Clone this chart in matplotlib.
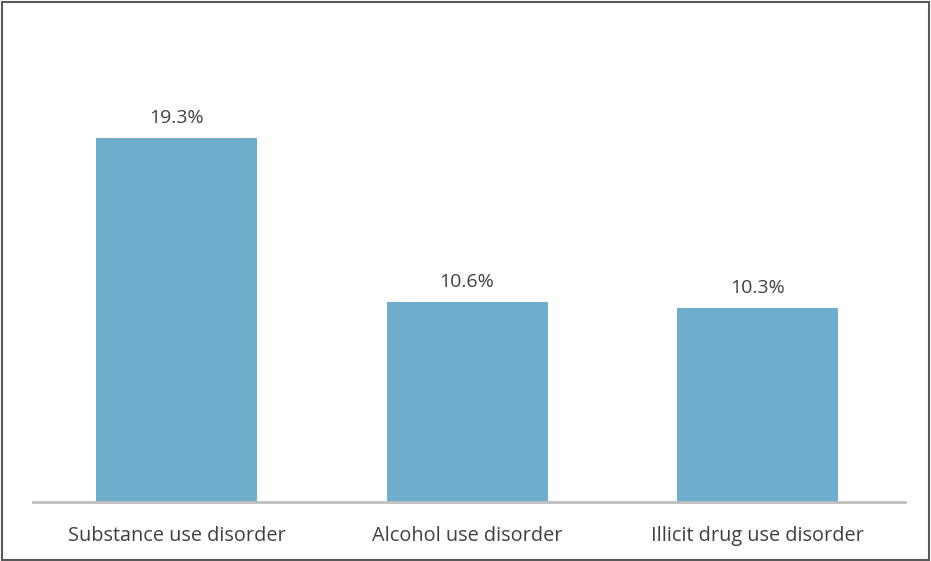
import matplotlib
matplotlib.use('Agg')
import matplotlib.pyplot as plt
from matplotlib.patches import Rectangle

plt.rcParams['font.family'] = ['Open Sans', 'DejaVu Sans']

categories = ['Substance use disorder', 'Alcohol use disorder', 'Illicit drug use disorder']
values = [19.3, 10.6, 10.3]
value_labels = ['19.3%', '10.6%', '10.3%']

bar_color = '#6FADCC'
text_color = '#404040'

fig = plt.figure(figsize=(9.31, 5.61), dpi=100)
ax = fig.add_axes([33 / 931, 59 / 561, 872 / 931, 471.5 / 561])

x = list(range(len(categories)))
bars = ax.bar(x, values, width=0.554, color=bar_color)

for b, lab in zip(bars, value_labels):
    ax.annotate(lab, (b.get_x() + b.get_width() / 2, b.get_height()),
                xytext=(0, 8), textcoords='offset points',
                ha='center', va='bottom', fontsize=14, color=text_color)

ax.set_xlim(-0.495, 2.508)
ax.set_ylim(0, 25)
ax.set_xticks(x)
ax.set_xticklabels(categories, fontsize=14.3, color=text_color)
ax.tick_params(axis='x', length=0, pad=17)
ax.set_yticks([])

for s in ['top', 'right', 'left']:
    ax.spines[s].set_visible(False)
ax.spines['bottom'].set_color('#BFBFBF')
ax.spines['bottom'].set_linewidth(2)

# frame round the whole picture
fig.patches.append(Rectangle((0.002, 0.002), 0.996, 0.995, transform=fig.transFigure,
                             fill=False, edgecolor='#595959', linewidth=1.5))

fig.savefig('out.png', dpi=100)
